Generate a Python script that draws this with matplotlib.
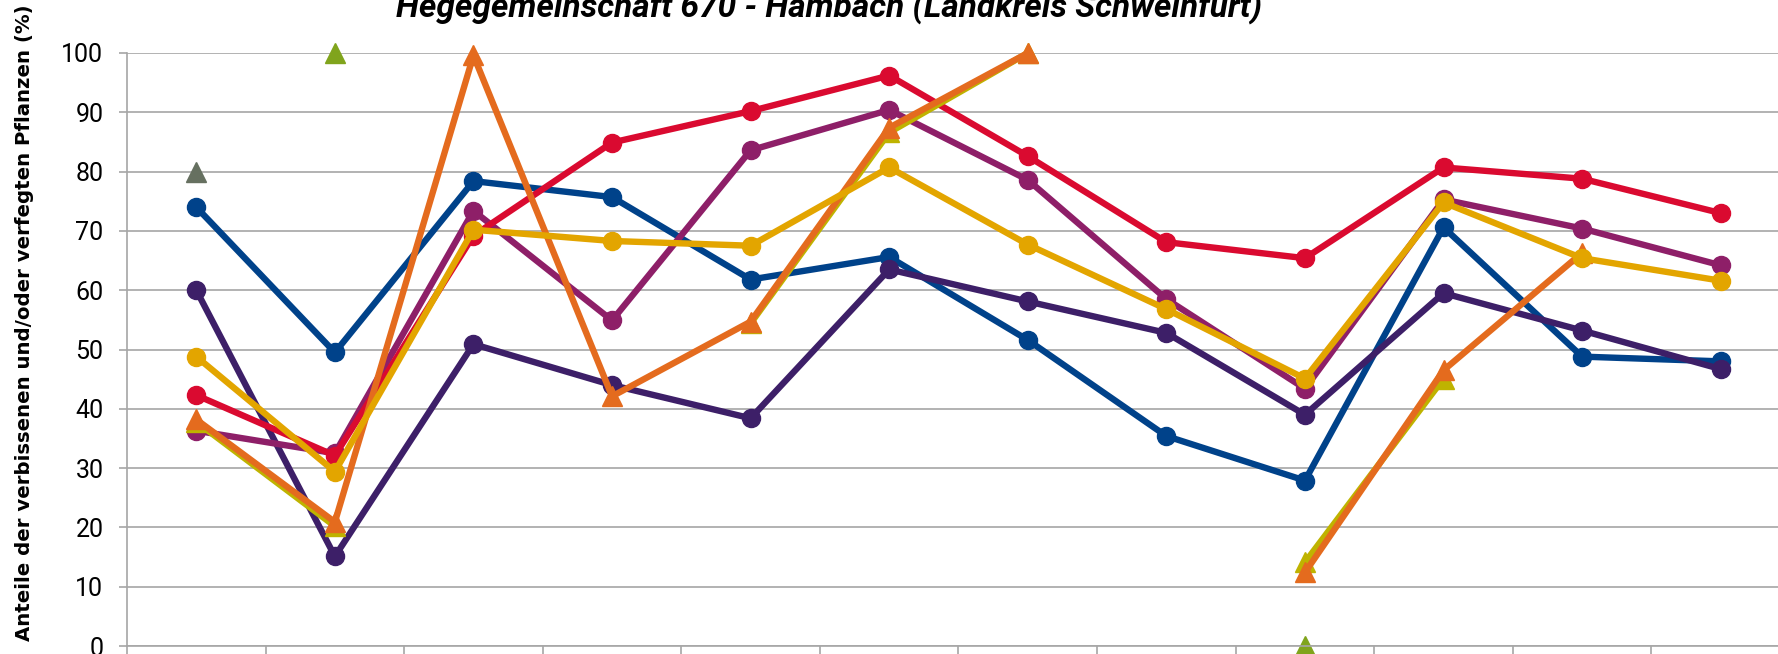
import numpy as np
import matplotlib
matplotlib.use("Agg")
from matplotlib import pyplot as plt

nan = np.nan
cats = list(range(1, 13))

blue = [74.0, 49.5, 78.4, 75.7, 61.8, 65.6, 51.6, 35.4, 27.9, 70.6, 48.8, 48.0]
dark_purple = [60.0, 15.1, 50.9, 44.0, 38.4, 63.5, 58.1, 52.8, 39.0, 59.5, 53.2, 46.7]
magenta = [36.3, 32.5, 73.4, 54.9, 83.6, 90.4, 78.6, 58.5, 43.4, 75.3, 70.4, 64.2]
red = [42.3, 32.1, 69.2, 84.9, 90.2, 96.2, 82.6, 68.1, 65.4, 80.7, 78.8, 73.0]
olive = [37.8, 20.2, nan, nan, 54.4, 86.6, 100.0, nan, 14.1, 45.1, nan, nan]
orange = [38.2, 20.9, 99.6, 42.1, 54.7, 87.4, 100.0, nan, 12.4, 46.5, 66.3, nan]
gold = [48.8, 29.4, 70.2, 68.3, 67.5, 80.7, 67.7, 56.8, 45.1, 74.8, 65.4, 61.6]
grey_green = [80.0, nan, nan, nan, nan, nan, nan, nan, nan, nan, nan, nan]
green = [nan, 100.0, nan, nan, nan, nan, nan, nan, 0.0, nan, nan, nan]

title = "Hegegemeinschaft 670 - Hambach (Landkreis Schweinfurt)"
ylabel = "Anteile der verbissenen und/oder verfegten Pflanzen (%)"

fig = plt.figure(figsize=(17.78, 6.54), dpi=100)
ax = fig.add_axes([127 / 1778, 8 / 654, 1663 / 1778, 593 / 654])

lw = 4.6
circ = dict(marker="o", markersize=13, linewidth=lw, clip_on=False)
tri = dict(marker="^", markersize=14, linewidth=lw, clip_on=False)

ax.plot(cats, blue, color="#00428a", **circ)
ax.plot(cats, dark_purple, color="#3d1f68", **circ)
ax.plot(cats, magenta, color="#8e1f68", **circ)
ax.plot(cats, red, color="#da0a30", **circ)
ax.plot(cats, olive, color="#bfb300", **tri)
ax.plot(cats, orange, color="#e46b1e", **tri)
ax.plot(cats, gold, color="#e3a500", **circ)
ax.plot(cats, grey_green, color="#667060", **tri)
ax.plot(cats, green, color="#80a41c", **tri)

ax.set_xlim(0.5, 12.5)
ax.set_ylim(0, 100)
ax.set_yticks(range(0, 101, 10))
ax.set_xticks(np.arange(0.5, 12.6, 1))
ax.set_xticklabels([])
ax.yaxis.grid(True, color="#a6a6a6", linewidth=1.2)
ax.set_axisbelow(True)
for s in ["top", "right"]:
    ax.spines[s].set_visible(False)
for s in ["left", "bottom"]:
    ax.spines[s].set_color("#a6a6a6")
    ax.spines[s].set_linewidth(1.2)
ax.tick_params(axis="both", color="#a6a6a6", width=1.2, length=6, direction="out")
ax.tick_params(axis="y", pad=11, labelsize=18)
for lab in ax.get_yticklabels():
    lab.set_family(["Roboto", "DejaVu Sans"])

fig.text(0.466, 1 - 17 / 654, title, ha="center", va="baseline", fontsize=24,
         fontweight="bold", fontstyle="italic",
         family=["Roboto", "DejaVu Sans"])
fig.text(0.014, 0.506, ylabel, rotation=90, ha="center", va="center",
         fontsize=14.2, fontweight="bold", family="DejaVu Sans")

fig.savefig("out.png", dpi=100)
